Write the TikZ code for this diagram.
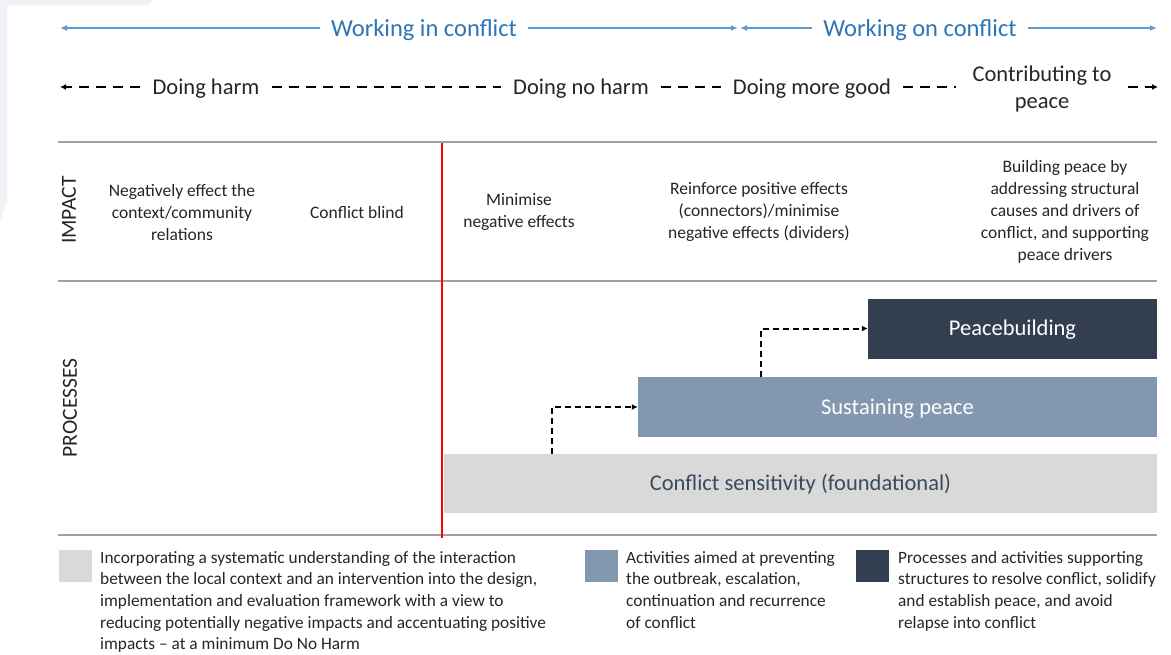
\documentclass[tikz,border=0pt]{standalone}
\usepackage{fontspec}
\setmainfont{Carlito}
\usetikzlibrary{arrows.meta,positioning}

\definecolor{wblue}{HTML}{5B9BD5}
\definecolor{wbluetext}{HTML}{2E75B6}
\definecolor{pbnavy}{HTML}{333F50}
\definecolor{spblue}{HTML}{8497B0}
\definecolor{csgrey}{HTML}{D9D9D9}
\definecolor{rulegrey}{HTML}{A0A0A0}
\definecolor{txt}{HTML}{262626}
\definecolor{cstext}{HTML}{3B4A5E}
\definecolor{bgtint}{HTML}{F1F2F7}

\tikzset{
  worklabel/.style={text=wbluetext, font=\fontsize{24.5}{28}\selectfont, inner xsep=11pt, inner ysep=2pt},
  workline/.style={wblue, line width=1.8pt},
  worktip/.style={workline, -{Latex[length=7pt,width=6pt]}},
  harmlabel/.style={text=txt, font=\fontsize{22.5}{27}\selectfont, align=center, inner xsep=12pt, inner ysep=2pt},
  harmline/.style={black, line width=2.2pt, dash pattern=on 10pt off 7pt},
  harmtip/.style={harmline, -{Latex[length=6pt,width=6pt]}},
  rowrule/.style={rulegrey, line width=1.1pt},
  rowlabel/.style={rotate=90, text=txt, font=\fontsize{21.5}{24}\selectfont},
  impacttext/.style={text=txt, font=\fontsize{17.5}{22}\selectfont, align=center},
  procbox/.style={rectangle, inner sep=0pt, text height=19.5pt, text depth=5pt, font=\fontsize{22.5}{26}\selectfont},
  steparrow/.style={black, line width=2pt, dash pattern=on 6pt off 4pt, -{Latex[length=6pt,width=6pt]}},
  legsq/.style={rectangle, inner sep=0pt, minimum width=33pt, minimum height=32pt},
  legtext/.style={text=txt, font=\fontsize{17.3}{21.6}\selectfont, align=left, anchor=north west, inner sep=0pt}
}

\begin{document}
\begin{tikzpicture}[x=1pt, y=-1pt]
  \useasboundingbox (0,0) rectangle (1171,654);
  \fill[white] (0,0) rectangle (1171,654);
  \fill[bgtint] (0,0) -- (153,0) -- (149,5) -- (7,5) -- (7,200) -- (0,222) -- cycle;

  % working in / on conflict
  \node[worklabel] (win) at (424,30) {Working in conflict};
  \node[worklabel] (won) at (920,30) {Working on conflict};
  \coordinate (wl) at (60,28);
  \coordinate (wm1) at (738,28);
  \coordinate (wm2) at (740,28);
  \coordinate (wr) at (1157,28);
  \draw[worktip] (win.west |- wl) -- (wl);
  \draw[worktip] (win.east |- wl) -- (wm1);
  \draw[worktip] (won.west |- wl) -- (wm2);
  \draw[worktip] (won.east |- wl) -- (wr);

  % harm scale
  \node[harmlabel] (harm) at (206,89) {Doing harm};
  \node[harmlabel] (noharm) at (581,89) {Doing no harm};
  \node[harmlabel] (moregood) at (812,89) {Doing more good};
  \node[harmlabel, inner xsep=16pt] (contrib) at (1042,89) {Contributing to\\peace};
  \coordinate (hl) at (60,87);
  \coordinate (hr) at (1158,87);
  \draw[harmtip] (harm.west |- hl) -- (hl);
  \draw[harmline] (harm.east |- hl) -- (noharm.west |- hl);
  \draw[harmline] (noharm.east |- hl) -- (moregood.west |- hl);
  \draw[harmline] (moregood.east |- hl) -- (contrib.west |- hl);
  \draw[harmtip] (contrib.east |- hl) -- (hr);

  % rows
  \draw[rowrule] (58,142) -- (1157,142);
  \draw[rowrule] (58,281) -- (1157,281);
  \draw[rowrule] (58,535) -- (1157,535);
  \node[rowlabel] (impact) at (69,210) {IMPACT};
  \node[rowlabel] (processes) at (70,408) {PROCESSES};

  % impact row
  \node[impacttext] (negative) at (182,212) {Negatively effect the\\context/community\\relations};
  \node[impacttext] (blind) at (357,212) {Conflict blind};
  \node[impacttext] (minimise) at (519,212) {Minimise\\negative effects};
  \node[impacttext] (reinforce) at (759,212) {Reinforce positive effects\\(connectors)/minimise\\negative effects (dividers)};
  \node[impacttext] (building) at (1065,212) {Building peace by\\addressing structural\\causes and drivers of\\conflict, and supporting\\peace drivers};

  % processes row
  \node[procbox, fill=csgrey, text=cstext, minimum width=713pt, minimum height=59pt] (cs) at (800.5,483.5) {Conflict sensitivity (foundational)};
  \node[procbox, fill=spblue, text=white, minimum width=519pt, minimum height=60pt] (sp) at (897.5,407) {Sustaining peace};
  \node[procbox, fill=pbnavy, text=white, minimum width=289pt, minimum height=60pt] (pb) at (1012.5,328.5) {Peacebuilding};
  \coordinate (c1) at (552,454);
  \coordinate (c2) at (761,377);
  \draw[steparrow] (c1) |- (sp.west);
  \draw[steparrow] (c2) |- (pb.west);

  \draw[red, line width=2.2pt] (442,143) -- (442,538);

  % legend
  \node[legsq, fill=csgrey] (lg1) at (75.5,566) {};
  \node[legsq, fill=spblue] (lg2) at (601.5,566) {};
  \node[legsq, fill=pbnavy] (lg3) at (872.5,566) {};
  \node[legtext] (lt1) at (100,551) {Incorporating a systematic understanding of the interaction\\between the local context and an intervention into the design,\\implementation and evaluation framework with a view to\\reducing potentially negative impacts and accentuating positive\\impacts -- at a minimum Do No Harm};
  \node[legtext] (lt2) at (626,551) {Activities aimed at preventing\\the outbreak, escalation,\\continuation and recurrence\\of conflict};
  \node[legtext] (lt3) at (898,551) {Processes and activities supporting\\structures to resolve conflict, solidify\\and establish peace, and avoid\\relapse into conflict};
\end{tikzpicture}
\end{document}
